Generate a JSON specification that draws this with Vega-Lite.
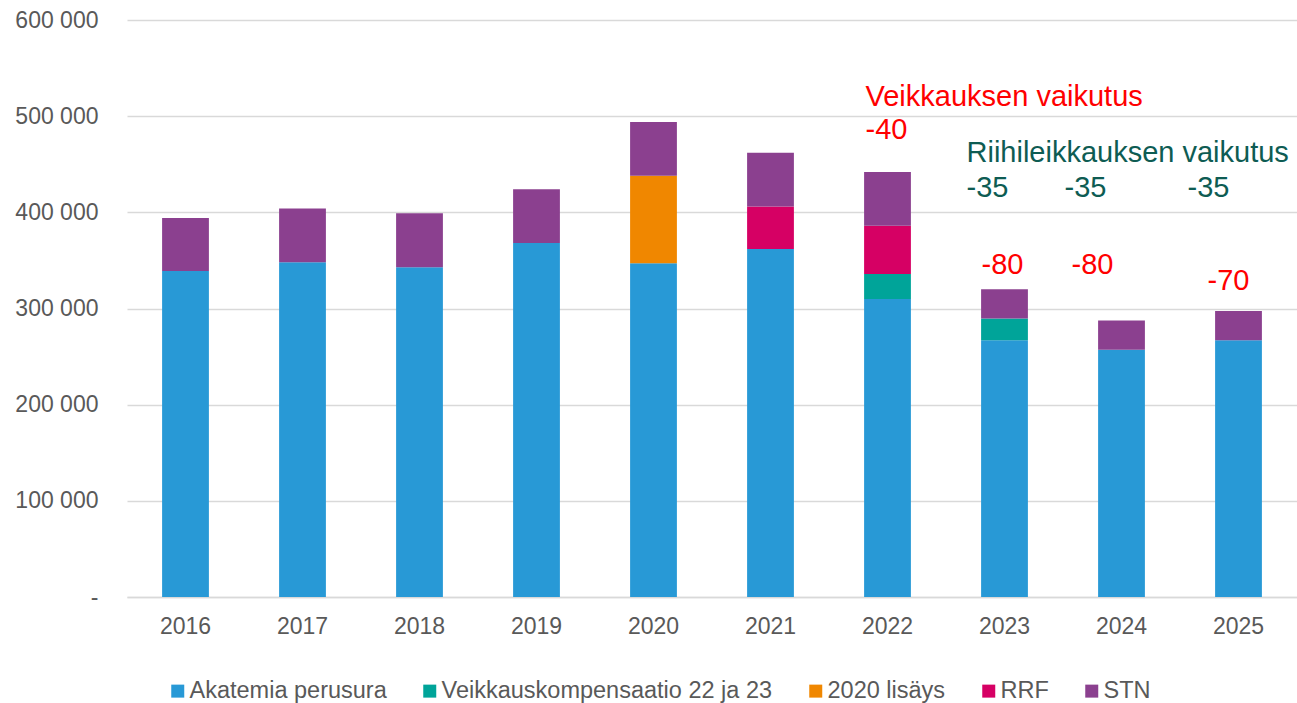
{
  "$schema": "https://vega.github.io/schema/vega-lite/v6.json",
  "autosize": {"type": "none"},
  "width": 1170,
  "height": 577,
  "padding": {"left": 127, "top": 20, "right": 0, "bottom": 106},
  "background": "white",
  "config": {
    "view": {"stroke": null},
    "font": "Liberation Sans",
    "axis": {"labelFont": "Liberation Sans", "labelColor": "#595959", "labelFontSize": 23, "titleFont": "Liberation Sans"},
    "legend": {"labelFont": "Liberation Sans"}
  },
  "layer": [
    {
      "data": {
        "values": [
          {"year": "2016", "series": "Akatemia perusura", "ord": 1, "value": 339000},
          {"year": "2016", "series": "STN", "ord": 5, "value": 55000},
          {"year": "2017", "series": "Akatemia perusura", "ord": 1, "value": 348000},
          {"year": "2017", "series": "STN", "ord": 5, "value": 56000},
          {"year": "2018", "series": "Akatemia perusura", "ord": 1, "value": 343000},
          {"year": "2018", "series": "STN", "ord": 5, "value": 56000},
          {"year": "2019", "series": "Akatemia perusura", "ord": 1, "value": 368000},
          {"year": "2019", "series": "STN", "ord": 5, "value": 56000},
          {"year": "2020", "series": "Akatemia perusura", "ord": 1, "value": 347000},
          {"year": "2020", "series": "2020 lisäys", "ord": 3, "value": 91000},
          {"year": "2020", "series": "STN", "ord": 5, "value": 56000},
          {"year": "2021", "series": "Akatemia perusura", "ord": 1, "value": 362000},
          {"year": "2021", "series": "RRF", "ord": 4, "value": 44000},
          {"year": "2021", "series": "STN", "ord": 5, "value": 56000},
          {"year": "2022", "series": "Akatemia perusura", "ord": 1, "value": 310000},
          {"year": "2022", "series": "Veikkauskompensaatio 22 ja 23", "ord": 2, "value": 26000},
          {"year": "2022", "series": "RRF", "ord": 4, "value": 50000},
          {"year": "2022", "series": "STN", "ord": 5, "value": 56000},
          {"year": "2023", "series": "Akatemia perusura", "ord": 1, "value": 267000},
          {"year": "2023", "series": "Veikkauskompensaatio 22 ja 23", "ord": 2, "value": 22500},
          {"year": "2023", "series": "STN", "ord": 5, "value": 30500},
          {"year": "2024", "series": "Akatemia perusura", "ord": 1, "value": 257000},
          {"year": "2024", "series": "STN", "ord": 5, "value": 30500},
          {"year": "2025", "series": "Akatemia perusura", "ord": 1, "value": 267000},
          {"year": "2025", "series": "STN", "ord": 5, "value": 30500}
        ]
      },
      "mark": {"type": "bar"},
      "encoding": {
        "x": {
          "field": "year", "type": "ordinal",
          "scale": {"paddingInner": 0.6, "paddingOuter": 0.3},
          "axis": {"title": null, "labelAngle": 0, "ticks": false, "domainColor": "#d9d9d9", "domainWidth": 1.5, "labelPadding": 18, "grid": false}
        },
        "y": {
          "field": "value", "type": "quantitative", "stack": "zero",
          "scale": {"domain": [0, 600000], "nice": false},
          "axis": {"title": null, "values": [0, 100000, 200000, 300000, 400000, 500000, 600000], "domain": false, "ticks": false, "labelPadding": 29, "gridColor": "#d9d9d9", "gridWidth": 1.5,
            "labelExpr": "datum.value == 0 ? '-' : format(datum.value / 1000, 'd') + ' 000'"}
        },
        "color": {
          "field": "series", "type": "nominal",
          "scale": {
            "domain": ["Akatemia perusura", "Veikkauskompensaatio 22 ja 23", "2020 lisäys", "RRF", "STN"],
            "range": ["#2899D6", "#00A499", "#F08700", "#D60064", "#8B408F"]
          },
          "legend": {
            "title": null, "orient": "none", "direction": "horizontal", "legendX": 39, "legendY": 659, "padding": 0,
            "symbolType": "square", "symbolSize": 169, "symbolStrokeWidth": 0, "labelFontSize": 23.5, "labelColor": "#595959",
            "labelOffset": 0, "columnPadding": 31, "labelLimit": 0
          }
        },
        "order": {"field": "ord", "type": "quantitative"}
      }
    },
    {
      "data": {"values": [{"year": "2022", "value": 520000, "label": "Veikkauksen vaikutus"}, {"year": "2022", "value": 486000, "label": "-40"}]},
      "mark": {"type": "text", "align": "left", "baseline": "middle", "dx": -22, "fontSize": 29, "color": "#FF0000"},
      "encoding": {"x": {"field": "year", "type": "ordinal"}, "y": {"field": "value", "type": "quantitative"}, "text": {"field": "label"}}
    },
    {
      "data": {"values": [{"year": "2023", "value": 462000, "label": "Riihileikkauksen vaikutus"}, {"year": "2023", "value": 425000, "label": "-35"}]},
      "mark": {"type": "text", "align": "left", "baseline": "middle", "dx": -38, "fontSize": 29, "color": "#0E5C53"},
      "encoding": {"x": {"field": "year", "type": "ordinal"}, "y": {"field": "value", "type": "quantitative"}, "text": {"field": "label"}}
    },
    {
      "data": {"values": [{"year": "2024", "value": 425000, "label": "-35"}]},
      "mark": {"type": "text", "align": "left", "baseline": "middle", "dx": -57, "fontSize": 29, "color": "#0E5C53"},
      "encoding": {"x": {"field": "year", "type": "ordinal"}, "y": {"field": "value", "type": "quantitative"}, "text": {"field": "label"}}
    },
    {
      "data": {"values": [{"year": "2025", "value": 425000, "label": "-35"}]},
      "mark": {"type": "text", "align": "left", "baseline": "middle", "dx": -51, "fontSize": 29, "color": "#0E5C53"},
      "encoding": {"x": {"field": "year", "type": "ordinal"}, "y": {"field": "value", "type": "quantitative"}, "text": {"field": "label"}}
    },
    {
      "data": {"values": [{"year": "2023", "value": 345000, "label": "-80"}]},
      "mark": {"type": "text", "align": "left", "baseline": "middle", "dx": -23, "fontSize": 29, "color": "#FF0000"},
      "encoding": {"x": {"field": "year", "type": "ordinal"}, "y": {"field": "value", "type": "quantitative"}, "text": {"field": "label"}}
    },
    {
      "data": {"values": [{"year": "2024", "value": 345000, "label": "-80"}]},
      "mark": {"type": "text", "align": "left", "baseline": "middle", "dx": -50, "fontSize": 29, "color": "#FF0000"},
      "encoding": {"x": {"field": "year", "type": "ordinal"}, "y": {"field": "value", "type": "quantitative"}, "text": {"field": "label"}}
    },
    {
      "data": {"values": [{"year": "2025", "value": 329000, "label": "-70"}]},
      "mark": {"type": "text", "align": "left", "baseline": "middle", "dx": -31, "fontSize": 29, "color": "#FF0000"},
      "encoding": {"x": {"field": "year", "type": "ordinal"}, "y": {"field": "value", "type": "quantitative"}, "text": {"field": "label"}}
    }
  ]
}
